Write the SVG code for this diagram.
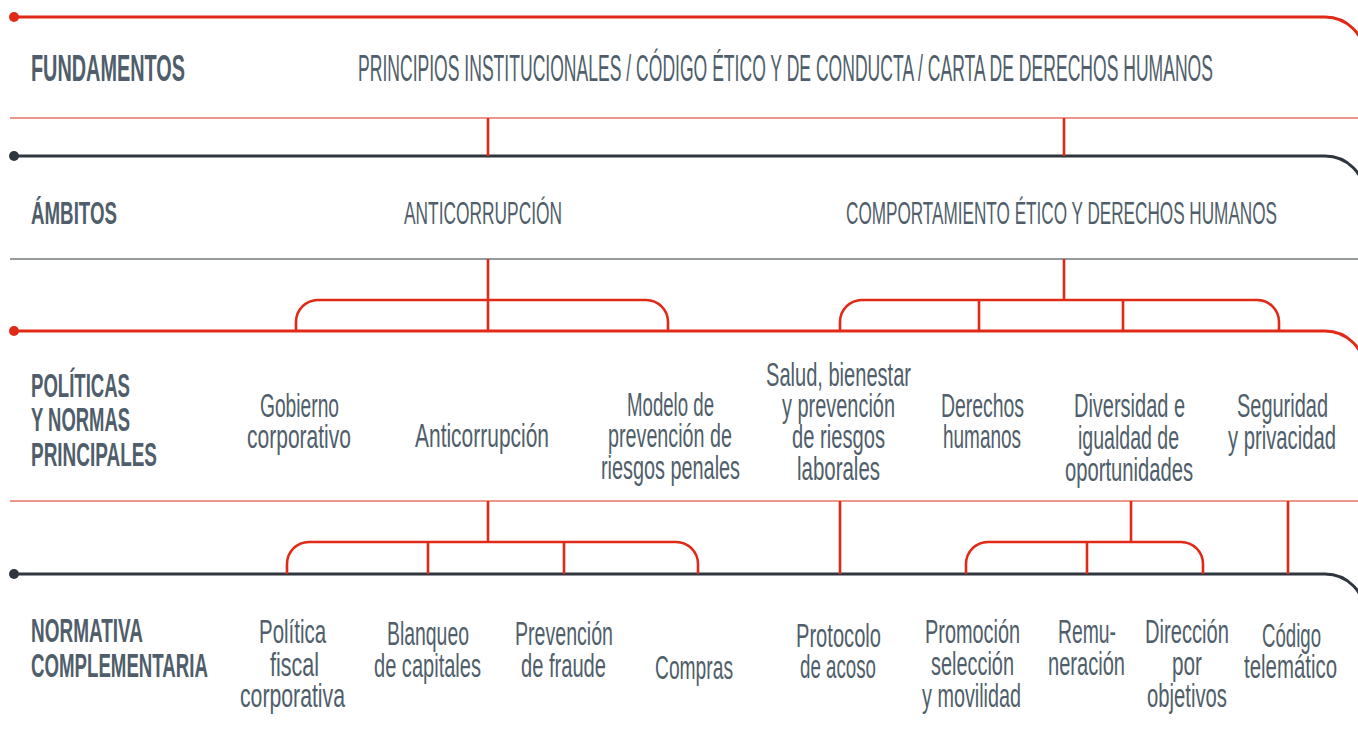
<svg xmlns="http://www.w3.org/2000/svg" width="1358" height="731" viewBox="0 0 1358 731">
<style>
text{font-family:"Liberation Sans",Arial,sans-serif;fill:#4f5e6a;}
.h{font-weight:700;}
.h36{font-size:36px;}
.h33{font-size:33px;}
.h31{font-size:31px;}
.u36{font-size:36px;}
.u32{font-size:32px;}
.t{font-size:33px;}
.bandR{fill:none;stroke:#e02a17;stroke-width:3;}
.bandD{fill:none;stroke:#2f3640;stroke-width:3;}
.thinR{stroke:#e02a17;stroke-width:1.2;}
.thinD{stroke:#2f3640;stroke-width:1.2;}
.c{fill:none;stroke:#e02a17;stroke-width:2.6;}
</style>
<rect width="1358" height="731" fill="#ffffff"/>
<g id="bands">
<path class="bandR" d="M14,17 H1325 A40,40 0 0 1 1365,57"/>
<circle cx="14" cy="17" r="5" fill="#e02a17"/>
<line class="thinR" x1="10" y1="118" x2="1358" y2="118"/>
<path class="bandD" d="M14,156 H1325 A40,40 0 0 1 1365,196"/>
<circle cx="14" cy="156" r="5" fill="#2f3640"/>
<line class="thinD" x1="10" y1="259" x2="1358" y2="259"/>
<path class="bandR" d="M14,331 H1325 A40,40 0 0 1 1365,371"/>
<circle cx="14" cy="331" r="5" fill="#e02a17"/>
<line class="thinR" x1="10" y1="501" x2="1358" y2="501"/>
<path class="bandD" d="M14,574 H1325 A40,40 0 0 1 1365,614"/>
<circle cx="14" cy="574" r="5" fill="#2f3640"/>
</g>
<g id="connectors">
<path class="c" d="M488,118 V156 M1064,118 V156"/>
<path class="c" d="M488,259 V331"/>
<path class="c" d="M296,331 V322 A22,22 0 0 1 318,300 H646 A22,22 0 0 1 668,322 V331"/>
<path class="c" d="M1064,259 V300"/>
<path class="c" d="M840,331 V322 A22,22 0 0 1 862,300 H1257 A22,22 0 0 1 1279,322 V331 M979,300 V331 M1123,300 V331"/>
<path class="c" d="M488,501 V542"/>
<path class="c" d="M287,574 V564 A22,22 0 0 1 309,542 H676 A22,22 0 0 1 698,564 V574 M428,542 V574 M564,542 V574"/>
<path class="c" d="M840,501 V574"/>
<path class="c" d="M1131,501 V542"/>
<path class="c" d="M966,574 V564 A22,22 0 0 1 988,542 H1181 A22,22 0 0 1 1203,564 V574 M1087,542 V574"/>
<path class="c" d="M1288,501 V574"/>
</g>
<g id="label-fundamentos"><text class="h h36" x="31" y="81" textLength="154" lengthAdjust="spacingAndGlyphs">FUNDAMENTOS</text></g>
<g id="node-principios"><text class="u36" x="358" y="81" textLength="855" lengthAdjust="spacingAndGlyphs">PRINCIPIOS INSTITUCIONALES / CÓDIGO ÉTICO Y DE CONDUCTA / CARTA DE DERECHOS HUMANOS</text></g>
<g id="label-ambitos"><text class="h h31" x="31" y="224" textLength="86" lengthAdjust="spacingAndGlyphs">ÁMBITOS</text></g>
<g id="node-anticorrupcion-ambito"><text class="u32" x="404" y="224" textLength="158" lengthAdjust="spacingAndGlyphs">ANTICORRUPCIÓN</text></g>
<g id="node-comportamiento"><text class="u32" x="846" y="224" textLength="431" lengthAdjust="spacingAndGlyphs">COMPORTAMIENTO ÉTICO Y DERECHOS HUMANOS</text></g>
<g id="label-politicas">
<text class="h h33" x="31" y="397" textLength="99" lengthAdjust="spacingAndGlyphs">POLÍTICAS</text>
<text class="h h33" x="31" y="431" textLength="99" lengthAdjust="spacingAndGlyphs">Y NORMAS</text>
<text class="h h33" x="31" y="466" textLength="126" lengthAdjust="spacingAndGlyphs">PRINCIPALES</text>
</g>
<g id="node-gobierno">
<text class="t" x="260" y="417" textLength="79" lengthAdjust="spacingAndGlyphs">Gobierno</text>
<text class="t" x="247" y="448" textLength="104" lengthAdjust="spacingAndGlyphs">corporativo</text>
</g>
<g id="node-anticorrupcion"><text class="t" x="415" y="447" textLength="134" lengthAdjust="spacingAndGlyphs">Anticorrupción</text></g>
<g id="node-modelo">
<text class="t" x="627" y="416" textLength="87" lengthAdjust="spacingAndGlyphs">Modelo de</text>
<text class="t" x="608" y="447" textLength="124" lengthAdjust="spacingAndGlyphs">prevención de</text>
<text class="t" x="601" y="479" textLength="139" lengthAdjust="spacingAndGlyphs">riesgos penales</text>
</g>
<g id="node-salud">
<text class="t" x="766" y="386" textLength="145" lengthAdjust="spacingAndGlyphs">Salud, bienestar</text>
<text class="t" x="782" y="417" textLength="113" lengthAdjust="spacingAndGlyphs">y prevención</text>
<text class="t" x="792" y="448" textLength="93" lengthAdjust="spacingAndGlyphs">de riesgos</text>
<text class="t" x="797" y="480" textLength="83" lengthAdjust="spacingAndGlyphs">laborales</text>
</g>
<g id="node-derechos">
<text class="t" x="941" y="417" textLength="83" lengthAdjust="spacingAndGlyphs">Derechos</text>
<text class="t" x="943" y="448" textLength="78" lengthAdjust="spacingAndGlyphs">humanos</text>
</g>
<g id="node-diversidad">
<text class="t" x="1074" y="417" textLength="111" lengthAdjust="spacingAndGlyphs">Diversidad e</text>
<text class="t" x="1078" y="449" textLength="101" lengthAdjust="spacingAndGlyphs">igualdad de</text>
<text class="t" x="1065" y="481" textLength="128" lengthAdjust="spacingAndGlyphs">oportunidades</text>
</g>
<g id="node-seguridad">
<text class="t" x="1237" y="417" textLength="91" lengthAdjust="spacingAndGlyphs">Seguridad</text>
<text class="t" x="1228" y="449" textLength="108" lengthAdjust="spacingAndGlyphs">y privacidad</text>
</g>
<g id="label-normativa">
<text class="h h33" x="31" y="642" textLength="112" lengthAdjust="spacingAndGlyphs">NORMATIVA</text>
<text class="h h33" x="31" y="677" textLength="177" lengthAdjust="spacingAndGlyphs">COMPLEMENTARIA</text>
</g>
<g id="node-politica-fiscal">
<text class="t" x="259" y="643" textLength="67" lengthAdjust="spacingAndGlyphs">Política</text>
<text class="t" x="270" y="676" textLength="49" lengthAdjust="spacingAndGlyphs">fiscal</text>
<text class="t" x="240" y="707" textLength="105" lengthAdjust="spacingAndGlyphs">corporativa</text>
</g>
<g id="node-blanqueo">
<text class="t" x="387" y="645" textLength="82" lengthAdjust="spacingAndGlyphs">Blanqueo</text>
<text class="t" x="374" y="677" textLength="107" lengthAdjust="spacingAndGlyphs">de capitales</text>
</g>
<g id="node-fraude">
<text class="t" x="515" y="645" textLength="98" lengthAdjust="spacingAndGlyphs">Prevención</text>
<text class="t" x="521" y="677" textLength="85" lengthAdjust="spacingAndGlyphs">de fraude</text>
</g>
<g id="node-compras"><text class="t" x="655" y="679" textLength="78" lengthAdjust="spacingAndGlyphs">Compras</text></g>
<g id="node-acoso">
<text class="t" x="796" y="647" textLength="85" lengthAdjust="spacingAndGlyphs">Protocolo</text>
<text class="t" x="800" y="678" textLength="76" lengthAdjust="spacingAndGlyphs">de acoso</text>
</g>
<g id="node-promocion">
<text class="t" x="925" y="643" textLength="95" lengthAdjust="spacingAndGlyphs">Promoción</text>
<text class="t" x="931" y="675" textLength="83" lengthAdjust="spacingAndGlyphs">selección</text>
<text class="t" x="922" y="707" textLength="99" lengthAdjust="spacingAndGlyphs">y movilidad</text>
</g>
<g id="node-remuneracion">
<text class="t" x="1058" y="643" textLength="58" lengthAdjust="spacingAndGlyphs">Remu-</text>
<text class="t" x="1048" y="675" textLength="77" lengthAdjust="spacingAndGlyphs">neración</text>
</g>
<g id="node-direccion">
<text class="t" x="1145" y="643" textLength="84" lengthAdjust="spacingAndGlyphs">Dirección</text>
<text class="t" x="1172" y="675" textLength="30" lengthAdjust="spacingAndGlyphs">por</text>
<text class="t" x="1147" y="707" textLength="80" lengthAdjust="spacingAndGlyphs">objetivos</text>
</g>
<g id="node-codigo">
<text class="t" x="1262" y="647" textLength="59" lengthAdjust="spacingAndGlyphs">Código</text>
<text class="t" x="1244" y="678" textLength="93" lengthAdjust="spacingAndGlyphs">telemático</text>
</g>
</svg>
